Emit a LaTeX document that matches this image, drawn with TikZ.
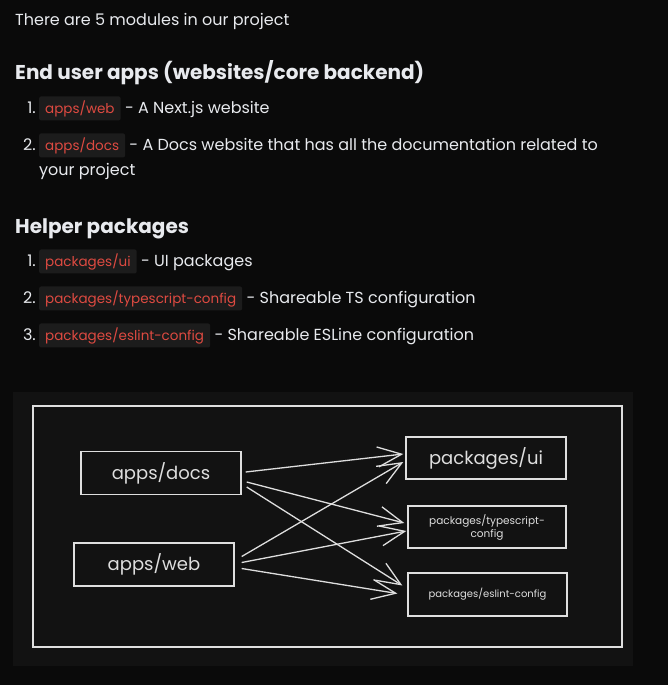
\documentclass[tikz,border=0pt]{standalone}
\usepackage{fontspec}
\setmainfont{Poppins}
\usetikzlibrary{arrows.meta,positioning}
\definecolor{pagebg}{HTML}{0A0A0A}
\definecolor{panelbg}{HTML}{121212}
\definecolor{codebg}{HTML}{1C1C1C}
\definecolor{codered}{HTML}{DE4A41}
\definecolor{textgray}{HTML}{E8EAEE}
\definecolor{sketch}{HTML}{DEDEDE}

\begin{document}
\begin{tikzpicture}[
    x=1pt, y=-1pt,
    body/.style={
        text=textgray, inner sep=0pt, anchor=base west,
        font=\fontsize{16}{19}\selectfont
    },
    heading/.style={
        text=textgray, inner sep=0pt, anchor=base west,
        font=\fontsize{20}{24}\selectfont\bfseries
    },
    itemnum/.style={
        text=textgray, inner sep=0pt, anchor=base east,
        font=\fontsize{16}{19}\selectfont
    },
    code/.style={
        fill=codebg, text=codered, rounded corners=2pt,
        inner xsep=6pt, inner ysep=0pt, minimum height=24pt,
        font=\fontsize{13.5}{16}\selectfont
    },
    sbox/.style={
        draw=sketch, line width=1.4pt, text=sketch, inner sep=2pt,
        align=center
    },
    dep/.style={
        draw=sketch, line width=1.3pt,
        -{Straight Barb[length=24pt, width=20pt, line width=1.3pt]}
    },
]

\def\LX{39}   % left edge of code boxes
\def\NX{36}   % right edge of item numbers
\def\GAP{4}   % gap between code box and description

%% ===================== PAGE =====================
\fill[pagebg] (0,0) rectangle (668,685);
\useasboundingbox (0,0) rectangle (668,685);

\node[body] (intro) at (15,26) {There are 5 modules in our project};

%% ===================== END USER APPS =====================
\node[heading] (hApps) at (15,79) {End user apps (websites/core backend)};

\node[itemnum] at (\NX,113) {1.};
\node[code, anchor=base west] (cWeb) at (\LX,113) {apps/web};
\node[body] (dWeb) at ([xshift=\GAP pt]cWeb.base east) {- A Next.js website};

\node[itemnum] at (\NX,150) {2.};
\node[code, anchor=base west] (cDocs) at (\LX,150) {apps/docs};
\node[body] (dDocs) at ([xshift=\GAP pt]cDocs.base east)
  {- A Docs website that has all the documentation related to};
\node[body] (dDocs2) at (\LX,175) {your project};

%% ===================== HELPER PACKAGES =====================
\node[heading] (hPkgs) at (15,233) {Helper packages};

\node[itemnum] at (\NX,266) {1.};
\node[code, anchor=base west] (cUi) at (\LX,266) {packages/ui};
\node[body] (dUi) at ([xshift=\GAP pt]cUi.base east) {- UI packages};

\node[itemnum] at (\NX,303) {2.};
\node[code, anchor=base west] (cTs) at (\LX,303) {packages/typescript-config};
\node[body] (dTs) at ([xshift=\GAP pt]cTs.base east) {- Shareable TS configuration};

\node[itemnum] at (\NX,340) {3.};
\node[code, anchor=base west] (cEs) at (\LX,340) {packages/eslint-config};
\node[body] (dEs) at ([xshift=\GAP pt]cEs.base east) {- Shareable ESLine configuration};

%% ===================== DIAGRAM =====================
\fill[panelbg] (13,392) rectangle (633,666);
\draw[sketch, line width=1.4pt] (33,406) rectangle (622,647);

% apps (left column)
\node[sbox, minimum width=160pt, minimum height=43pt,
  font=\fontsize{18}{20}\selectfont] (docs) at (161,473) {apps/docs};
\node[sbox, minimum width=160pt, minimum height=43pt,
  font=\fontsize{18}{20}\selectfont] (web) at (154,564.5) {apps/web};

% packages (right column)
\node[sbox, minimum width=160pt, minimum height=42pt,
  font=\fontsize{18}{20}\selectfont] (ui) at (486,458) {packages/ui};
\node[sbox, minimum width=158pt, minimum height=42pt,
  font=\fontsize{10.5}{13}\selectfont] (ts) at (487,527)
  {packages/typescript-\\config};
\node[sbox, minimum width=159pt, minimum height=43pt,
  font=\fontsize{10}{12}\selectfont] (eslint) at (487.5,594.5)
  {packages/eslint-config};

%% ===================== DEPENDENCIES =====================
\draw[dep] ([xshift=4pt,yshift=1pt]docs.east)   -- ([xshift=-2pt,yshift=4pt]ui.west);
\draw[dep] ([xshift=5pt,yshift=-9pt]docs.east)  -- ([xshift=-3pt,yshift=4pt]ts.west);
\draw[dep] ([xshift=5pt,yshift=-14pt]docs.east) -- ([xshift=-5pt,yshift=9pt]eslint.west);

\draw[dep] ([xshift=7pt,yshift=8pt]web.east)    -- ([xshift=-2pt,yshift=-4pt]ui.west);
\draw[dep] ([xshift=7pt,yshift=2pt]web.east)    -- ([xshift=-1pt,yshift=-4pt]ts.west);
\draw[dep] ([xshift=7pt,yshift=-4pt]web.east)   -- ([xshift=-10pt,yshift=1pt]eslint.west);

\end{tikzpicture}
\end{document}
